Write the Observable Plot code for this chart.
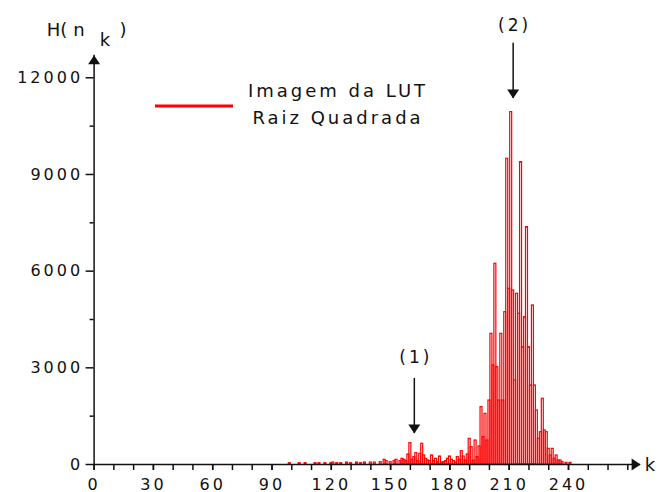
<!DOCTYPE html>
<html><head><meta charset="utf-8">
<script src="https://cdn.jsdelivr.net/npm/d3@7"></script>
<script src="https://cdn.jsdelivr.net/npm/@observablehq/plot@0.6"></script>
<style>
body{margin:0;background:#fff;}
#wrap{position:relative;width:659px;height:492px;overflow:hidden;background:#fff;}
</style></head><body><div id="wrap"></div>
<script>
// Histogram of the square-root LUT image: gray level k -> count H(n_k)
const kValues = [99,104,107,112,114,117,120,121,123,125,128,130,133,135,137,140,142,145,147,148,150,152,153,155,156,157,158,159,160,161,162,163,164,165,166,167,168,169,170,171,172,173,174,175,176,177,178,179,180,181,182,183,184,185,186,187,188,189,190,191,192,193,194,195,196,197,198,199,200,201,202,203,204,205,206,207,208,209,210,211,212,213,214,215,216,217,218,219,220,221,222,223,224,225,226,227,228,229,230,231,232,233,234,235,236,237,239,241];
const counts  = [40,40,40,40,40,40,40,60,40,40,60,40,60,40,60,60,60,72,145,104,72,104,145,104,176,145,104,311,662,145,228,352,104,331,642,280,176,124,104,280,104,176,72,248,60,72,104,176,248,145,104,60,228,145,414,248,124,311,797,538,120,745,228,559,1780,849,1573,745,1986,4056,3073,6228,3020,1986,4056,1986,4727,9487,5452,10935,5400,2607,5297,4676,9383,3641,4572,7366,3641,2452,4935,2452,1676,796,1003,2039,1055,1003,486,279,486,176,279,124,124,72,50,50];

const yTickValues = [0,3000,6000,9000,12000];
const yMinorTicks = [1500,4500,7500,10500];
const xTickLabels = [0,30,60,90,120,150,180,210,240];
const xMinorTicks = [0,10,20,30,40,50,60,70,80,90,100,110,120,130,140,150,160,170,180,190,200,210,220,230,240,250,260,270];

// annotations (1) and (2)
const annotLabels = ["(1)","(2)"];
const annotK      = [162, 212];
const annotTip    = [960, 11360];
const annotTail   = [2670, 13070];
const annotTextAt = [3320, 13625];

const legendLabels = ["Imagem da LUT","Raiz Quadrada"];
const yTitle = ["H(","n","k",")"];
const xTitle = "k";

const xAxisMax = 276.5;
const yAxisMax = 12700;

const data = kValues.map((k,i)=>({k, v: counts[i]}));
const annots = annotLabels.map((label,i)=>({label, k: annotK[i], tip: annotTip[i], tail: annotTail[i], t: annotTextAt[i]}));

const font = "'DejaVu Sans', Verdana, sans-serif";
const red = "#ff0000";
const ink = "#111";

// down-pointing flat triangle, tip at origin
const arrowHead = {draw(ctx){ ctx.moveTo(-6,-9); ctx.lineTo(6,-9); ctx.lineTo(0,0); ctx.closePath(); }};

const chart = Plot.plot({
  width: 659, height: 492,
  marginLeft: 93.6, marginRight: 91, marginTop: 77.3, marginBottom: 28,
  x: {domain: [0,240], label: null},
  y: {domain: [0,12000], label: null},
  style: {fontFamily: font, fontSize: "16px", color: ink, background: "#fff", overflow: "visible"},
  marks: [
    Plot.rectY(data, {x1: d => d.k - 0.5, x2: d => d.k + 0.5, y: "v", fill: "none", stroke: red, strokeWidth: 1.2}),
    Plot.ruleY([0], {x1: () => 0, x2: () => xAxisMax, stroke: ink, strokeWidth: 1.5}),
    Plot.ruleX([0], {y1: () => 0, y2: () => yAxisMax, stroke: ink, strokeWidth: 1.5}),
    Plot.dot([{x: xAxisMax, y: 0}], {x: "x", y: "y", symbol: arrowHead, rotate: -90, fill: ink, stroke: null, r: 5}),
    Plot.dot([{x: 0, y: yAxisMax}], {x: "x", y: "y", symbol: arrowHead, rotate: 180, fill: ink, stroke: null, r: 5}),
    Plot.axisY(yMinorTicks, {anchor: "left", tickSize: 4, tickFormat: () => "", label: null, strokeWidth: 1.5}),
    Plot.axisY(yTickValues, {anchor: "left", tickSize: 8, tickPadding: 3, tickFormat: d => String(d), label: null, strokeWidth: 1.5, fontSize: 16}),
    Plot.axisX(xMinorTicks, {anchor: "bottom", tickSize: 6, tickFormat: () => "", label: null, strokeWidth: 1.5}),
    Plot.axisX(xTickLabels, {anchor: "bottom", tickSize: 6, tickPadding: 8, tickFormat: d => String(d), label: null, strokeWidth: 1.5, fontSize: 16}),
    Plot.ruleX(annots, {x: "k", y1: "tip", y2: "tail", stroke: ink, strokeWidth: 1.5}),
    Plot.dot(annots, {x: "k", y: "tip", symbol: arrowHead, fill: ink, stroke: null, r: 5}),
    Plot.text(annots, {x: "k", y: "t", text: "label", fontSize: 17, fill: ink, dx: 1.5})
  ]
});

document.getElementById("wrap").appendChild(chart);
const svg = d3.select(chart);
svg.selectAll("text").attr("letter-spacing", "3px");

// legend
const lg = svg.append("g").attr("font-family", font).attr("fill", ink);
lg.append("line").attr("x1", 155).attr("x2", 233).attr("y1", 106).attr("y2", 106)
  .attr("stroke", red).attr("stroke-width", 3);
lg.selectAll("text.lg").data(legendLabels).join("text")
  .attr("x", 338).attr("y", (d,i) => 97 + i*27)
  .attr("text-anchor", "middle").attr("font-size", 18).attr("letter-spacing", "3px")
  .text(d => d);

// y title H(n_k)
const tt = svg.append("text").attr("font-family", font).attr("font-size", 18).attr("fill", ink).attr("y", 36);
tt.append("tspan").attr("x", 57).text(yTitle[0]);
tt.append("tspan").attr("x", 79).text(yTitle[1]);
tt.append("tspan").attr("x", 105).attr("dy", 10).text(yTitle[2]);
tt.append("tspan").attr("x", 123).attr("dy", -10).text(yTitle[3]);

// x title k
svg.append("text").attr("font-family", font).attr("font-size", 18).attr("fill", ink)
  .attr("x", 650).attr("y", 471).text(xTitle);
</script></body></html>
